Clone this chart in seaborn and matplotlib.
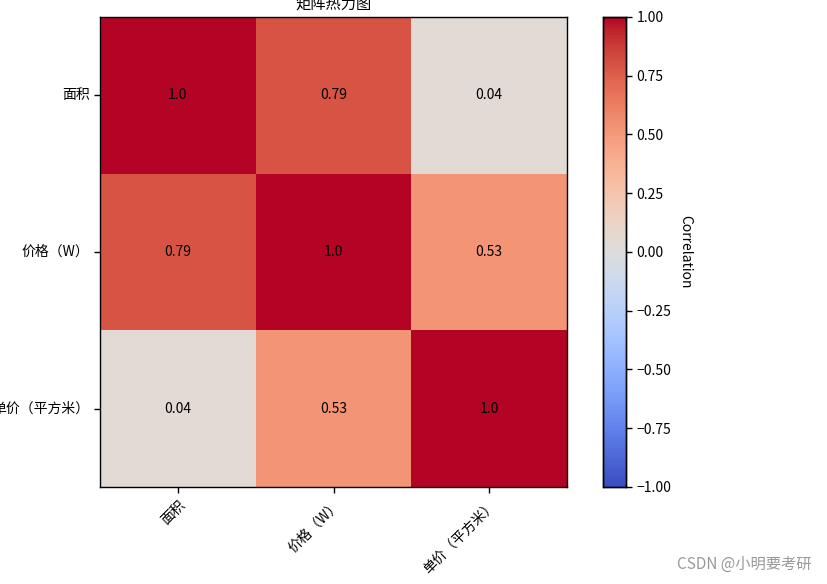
import numpy as np
import pandas as pd
import matplotlib
matplotlib.use("Agg")
import matplotlib.pyplot as plt
import seaborn as sns

plt.rcParams['font.family'] = ['Noto Sans CJK SC', 'DejaVu Sans']
plt.rcParams['axes.unicode_minus'] = True

# correlation matrix values
labels = ["面积", "价格（W）", "单价（平方米）"]
row_area = [1.0, 0.79, 0.04]
row_price = [0.79, 1.0, 0.53]
row_unit = [0.04, 0.53, 1.0]

corr = pd.DataFrame([row_area, row_price, row_unit], index=labels, columns=labels)
annot_text = corr.map(lambda v: str(round(v, 2)))

fig = plt.figure(figsize=(8.28, 5.84), dpi=100)
ax = fig.add_axes([0.1208, 0.1661, 0.564, 0.8048])
cax = fig.add_axes([0.7283, 0.1661, 0.0278, 0.8048])

sns.heatmap(corr, ax=ax, cbar_ax=cax, cmap="coolwarm", vmin=-1, vmax=1,
            annot=annot_text, fmt="", annot_kws={"color": "black", "fontsize": 10},
            linewidths=0)

for s in ax.spines.values():
    s.set_visible(True)
    s.set_color("black")
    s.set_linewidth(1)
ax.tick_params(axis="both", length=4, width=1, labelsize=10)
ax.set_xticklabels(labels, rotation=45, ha="right", rotation_mode="anchor")
ax.set_yticklabels(labels, rotation=0)
ax.set_title("矩阵热力图", fontsize=11)

cax.set_yticks(np.arange(-1, 1.01, 0.25))
cax.set_yticklabels([f"{t:.2f}".replace("-", "\u2212") for t in np.arange(-1, 1.01, 0.25)])
cax.tick_params(length=4, width=1, labelsize=10)
for s in cax.spines.values():
    s.set_visible(True)
    s.set_linewidth(1)
cax.set_ylabel("Correlation", rotation=270, labelpad=15, fontsize=10)

fig.text(0.98, 0.02, "CSDN @小明要考研", ha="right", va="bottom", fontsize=11, color="#999999")

fig.savefig("out.png", dpi=100)
